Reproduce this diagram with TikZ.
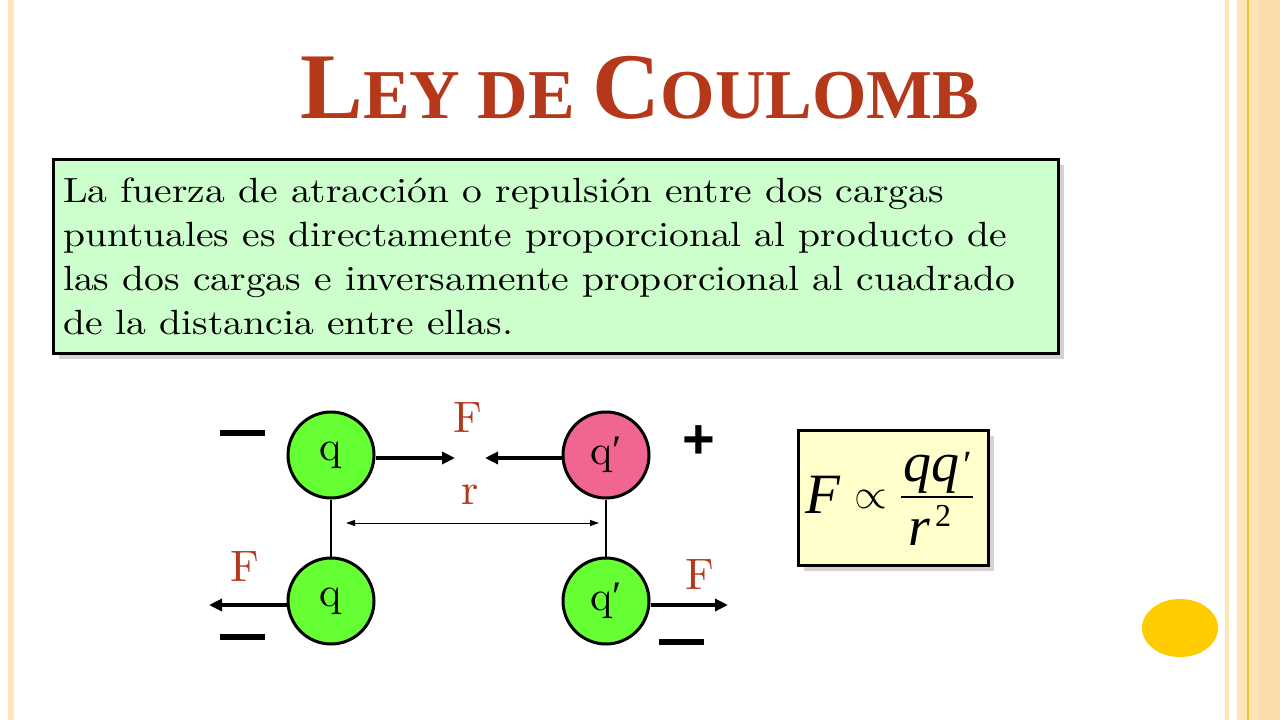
\RequirePackage{fix-cm}
\documentclass[tikz,border=0pt]{standalone}
\usepackage{fontspec}
\setmainfont{Liberation Serif}
\newfontfamily\sansf{Liberation Sans}
\newfontfamily\bodyf{lmroman10-regular.otf}[FakeStretch=1.13]
\newfontfamily\labf{lmroman10-regular.otf}
\usetikzlibrary{arrows.meta}
\definecolor{titlered}{RGB}{181,56,26}
\definecolor{boxgreen}{RGB}{204,255,204}
\definecolor{boxyellow}{RGB}{255,255,204}
\definecolor{qgreen}{RGB}{102,255,51}
\definecolor{qpink}{RGB}{240,102,144}
\definecolor{stripe}{RGB}{253,228,185}
\definecolor{stripedark}{RGB}{251,220,170}
\definecolor{goldline}{RGB}{245,195,50}
\definecolor{dotyellow}{RGB}{255,204,0}
\definecolor{shadowgray}{RGB}{215,210,210}
\newcommand{\qprime}{{\rmfamily′}}
\tikzset{
  charge/.style={circle, draw=black, line width=3pt, minimum size=86pt, inner sep=0pt,
    font=\labf\fontsize{42}{42}\selectfont},
  force/.style={line width=3.5pt, -{Triangle[length=13pt,width=12pt]}},
  flabel/.style={text=titlered, font=\labf\fontsize{44}{44}\selectfont, inner sep=0pt},
  bodyline/.style={anchor=base west, inner sep=0pt, font=\bodyf\fontsize{35}{44}\selectfont},
  bar/.style={fill=black},
}
\begin{document}
\begin{tikzpicture}[x=1pt,y=-1pt]
\useasboundingbox (0,0) rectangle (1280,720);
\fill[white] (0,0) rectangle (1280,720);
% border stripes
\fill[stripe] (8,0) rectangle (14,720);
\fill[stripe] (1225,0) rectangle (1229,720);
\fill[stripe] (1237,0) rectangle (1280,720);
\fill[stripedark] (1259,0) rectangle (1280,720);
\draw[goldline, line width=1.2pt] (1248,0) -- (1248,720);
% title
\node[text=titlered, anchor=base, inner sep=0pt] (title) at (640,118)
  {\bfseries\fontsize{94}{94}\selectfont L\fontsize{70}{70}\selectfont EY DE \fontsize{94}{94}\selectfont C\fontsize{70}{70}\selectfont OULOMB};
% text box
\fill[shadowgray] (59,165) rectangle (1064,359);
\node[draw=black, line width=3pt, fill=boxgreen, anchor=north west, minimum width=1005pt,
  minimum height=194pt, inner sep=0pt] (tbox) at (52,158) {};
\node[bodyline] (t1) at (63,202) {La fuerza de atracción o repulsión entre dos cargas};
\node[bodyline] (t2) at (63,246) {puntuales es directamente proporcional al producto de};
\node[bodyline] (t3) at (63,290) {las dos cargas e inversamente proporcional al cuadrado};
\node[bodyline] (t4) at (63,334) {de la distancia entre ellas.};
% charges
\node[charge, fill=qgreen] (q1) at (331,455) {q};
\node[charge, fill=qpink] (q2) at (606,455) {q\qprime};
\node[charge, fill=qgreen] (q3) at (331,601) {q};
\node[charge, fill=qgreen] (q4) at (606,601) {q\qprime};
\draw[line width=1.2pt] (q1) -- (q3);
\draw[line width=1.2pt] (q2) -- (q4);
% forces
\coordinate (fa) at (455,458);
\coordinate (fb) at (485,458);
\coordinate (fc) at (209,605);
\coordinate (fd) at (728,605);
\draw[force] (q1.east |- fa) -- (fa);
\draw[force] (q2.west |- fb) -- (fb);
\draw[force] (q3.west |- fc) -- (fc);
\draw[force] (q4.east |- fd) -- (fd);
% r distance
\coordinate (ra) at (346,523);
\coordinate (rb) at (599,523);
\draw[line width=1pt, {Triangle[length=9pt,width=6pt]}-{Triangle[length=9pt,width=6pt]}] (ra) -- (rb);
% labels
\node[flabel, anchor=base] (lF1) at (468,432) {F};
\node[flabel, anchor=base] (lr) at (470,504) {r};
\node[flabel, anchor=base] (lF2) at (245,581) {F};
\node[flabel, anchor=base] (lF3) at (700,589) {F};
% signs
\fill[bar] (220,430) rectangle (265,436);
\fill[bar] (220,634) rectangle (265,640);
\fill[bar] (659,639) rectangle (704,645);
\node[inner sep=0pt, font=\sansf\bfseries\fontsize{56}{56}\selectfont] (plus) at (699,442) {+};
% formula box
\fill[shadowgray] (804,436) rectangle (994,571);
\node[draw=black, line width=3pt, fill=boxyellow, anchor=north west, minimum width=190pt,
  minimum height=135pt, inner sep=0pt] (fbox) at (797,429) {};
\node[anchor=base west, inner sep=0pt, font=\itshape\fontsize{57}{57}\selectfont] (fF) at (805,513) {F};
\node[anchor=center, inner sep=0pt, font=\fontsize{42}{42}\selectfont] (fprop) at (871,499) {$\propto$};
\node[anchor=base west, inner sep=0pt, font=\itshape\fontsize{56}{56}\selectfont] (fnum) at (903,481) {qq};
\node[anchor=base west, inner sep=0pt, font=\fontsize{40}{40}\selectfont] (fprime) at (963,478) {′};
\draw[line width=2pt] (901,497) -- (973,497);
\node[anchor=base west, inner sep=0pt, font=\itshape\fontsize{56}{56}\selectfont] (fr) at (908,545) {r};
\node[anchor=base west, inner sep=0pt, font=\fontsize{32}{32}\selectfont] (f2) at (935,526) {2};
% decorative dot
\fill[dotyellow] (1180,628) ellipse [x radius=38, y radius=29];
\end{tikzpicture}
\end{document}
